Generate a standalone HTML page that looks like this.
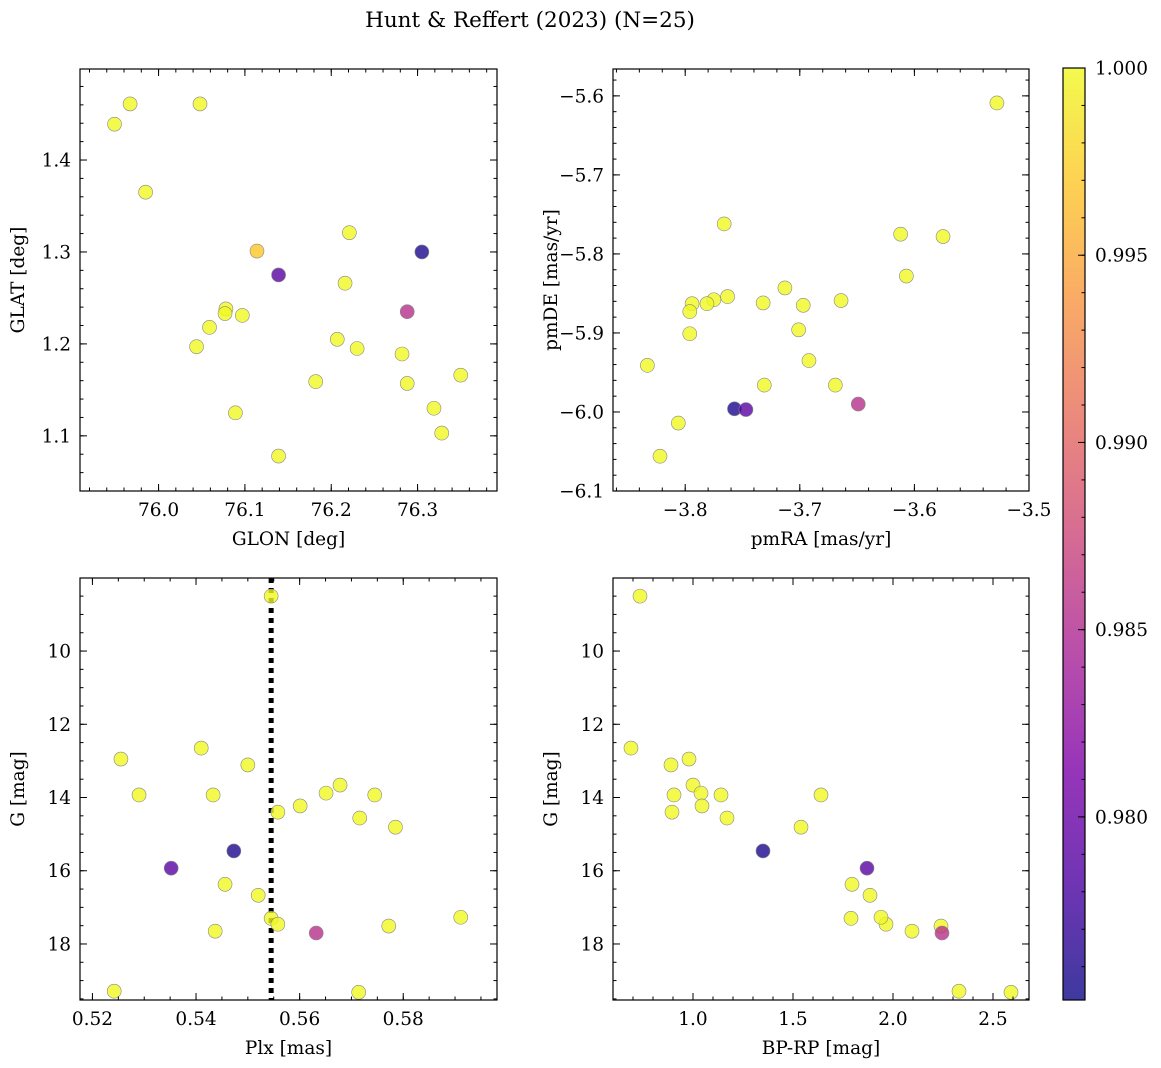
<!DOCTYPE html>
<html><head><meta charset="utf-8"><style>
body{margin:0;background:#fff;}
svg{display:block;font-family:"DejaVu Serif","Liberation Serif",serif;}
</style></head><body>
<svg id="c" width="1161" height="1068" xmlns="http://www.w3.org/2000/svg">
<defs>
<linearGradient id="plasma" x1="0" y1="1" x2="0" y2="0">
<stop offset="0" stop-color="#0d0887"/><stop offset="0.125" stop-color="#4c02a1"/><stop offset="0.25" stop-color="#7e03a8"/><stop offset="0.375" stop-color="#a92395"/><stop offset="0.5" stop-color="#cc4778"/><stop offset="0.625" stop-color="#e66c5c"/><stop offset="0.75" stop-color="#f89540"/><stop offset="0.875" stop-color="#fdc527"/><stop offset="1" stop-color="#f0f921"/>
</linearGradient>
</defs>
<text x="530" y="27" font-size="21.5" text-anchor="middle">Hunt &amp; Reffert (2023) (N=25)</text>
</svg>
<script>
// data
const glon=[75.949,75.967,76.048,75.985,76.114,76.139,76.305,76.221,76.216,76.288,76.078,76.077,76.097,76.059,76.044,76.207,76.230,76.282,76.288,76.350,76.182,76.089,76.319,76.328,76.139];
const glat=[1.439,1.461,1.461,1.365,1.301,1.275,1.300,1.321,1.266,1.235,1.238,1.233,1.231,1.218,1.197,1.205,1.195,1.189,1.157,1.166,1.159,1.125,1.130,1.103,1.078];
const glatProb=[1,1,1,1,0.997,0.979,0.9758,1,1,0.9855,1,1,1,1,1,1,1,1,1,1,1,1,1,1,1];
const pmra=[-3.528,-3.766,-3.612,-3.575,-3.607,-3.713,-3.763,-3.775,-3.794,-3.781,-3.732,-3.697,-3.664,-3.796,-3.701,-3.796,-3.692,-3.833,-3.731,-3.669,-3.649,-3.757,-3.747,-3.806,-3.822];
const pmde=[-5.609,-5.762,-5.775,-5.778,-5.828,-5.843,-5.854,-5.858,-5.863,-5.863,-5.862,-5.865,-5.859,-5.873,-5.896,-5.901,-5.935,-5.941,-5.966,-5.966,-5.990,-5.996,-5.997,-6.014,-6.056];
const pmProb=[1,1,1,1,1,1,1,1,1,1,1,1,1,1,1,1,1,1,1,1,0.9855,0.9758,0.979,1,1];
const plx=[0.5545,0.5255,0.5410,0.5500,0.5290,0.5433,0.5678,0.5651,0.5745,0.5601,0.5558,0.5716,0.5785,0.5473,0.5352,0.5456,0.5520,0.5545,0.5558,0.5437,0.5632,0.5772,0.5911,0.5242,0.5714];
const gPlx=[8.50,12.95,12.65,13.11,13.93,13.93,13.66,13.88,13.93,14.23,14.40,14.56,14.81,15.46,15.93,16.37,16.67,17.30,17.46,17.65,17.70,17.51,17.27,19.29,19.32];
const plxProb=[1,1,1,1,1,1,1,1,1,1,1,1,1,0.9758,0.979,1,1,1,1,1,0.9855,1,1,1,1];
const bprp=[0.735,0.69,0.98,0.89,1.0,0.905,1.04,1.14,1.64,1.045,0.895,1.17,1.54,1.35,1.87,1.795,1.885,1.79,1.965,1.94,2.095,2.24,2.245,2.33,2.59];
const gCmd=[8.50,12.65,12.95,13.11,13.66,13.93,13.88,13.93,13.93,14.23,14.40,14.56,14.81,15.46,15.93,16.37,16.67,17.30,17.46,17.27,17.65,17.51,17.70,19.29,19.32];
const cmdProb=[1,1,1,1,1,1,1,1,1,1,1,1,1,0.9758,0.979,1,1,1,1,1,1,1,0.9855,1,1];
const plxRef=[0.5545];
const cbTicks=[0.980,0.985,0.990,0.995,1.000];

const NS='http://www.w3.org/2000/svg';
const svg=document.getElementById('c');
const FS=18.5;
function mk(t,a,p){const e=document.createElementNS(NS,t);for(const k in a)e.setAttribute(k,a[k]);(p||svg).appendChild(e);return e;}
const stops=[[13,8,135],[76,2,161],[126,3,168],[169,35,149],[204,71,120],[230,108,92],[248,149,64],[253,197,39],[240,249,33]];
const cmin=0.97511,cmax=1.0;
function cmap(v){let t=(v-cmin)/(cmax-cmin);t=Math.max(0,Math.min(1,t))*8;const i=Math.min(7,Math.floor(t)),f=t-i;const a=stops[i],b=stops[i+1];return 'rgb('+a.map((c,k)=>Math.round(c+(b[k]-c)*f)).join(',')+')';}
function ticks(a,b,s){const r=[];const lo=Math.min(a,b),hi=Math.max(a,b);for(let v=Math.ceil(lo/s-1e-6)*s;v<=hi+1e-9;v+=s)r.push(+v.toFixed(6));return r;}
function fmt(v,d){const s=v.toFixed(d);return s.replace('-','\u2212');}
function panel(o){
  const g=mk('g',{});
  
  
  const X=v=>o.x0+(v-o.xd[0])/(o.xd[1]-o.xd[0])*(o.x1-o.x0);
  const Y=v=>o.y1-(v-o.yd[0])/(o.yd[1]-o.yd[0])*(o.y1-o.y0);
  if(o.vline){o.vline.forEach(v=>{const l=mk('line',{x1:X(v),x2:X(v),y1:o.y0,y2:o.y1,stroke:'#000','stroke-width':5,'stroke-dasharray':'5,5'},g);});}
  o.xs.forEach((xv,i)=>{const c=mk('circle',{cx:X(xv),cy:Y(o.ys[i]),r:7,fill:cmap(o.cs[i]),'fill-opacity':0.8,stroke:'#888','stroke-width':0.6},g);});
  const fr=mk('rect',{x:o.x0,y:o.y0,width:o.x1-o.x0,height:o.y1-o.y0,fill:'none',stroke:'#000','stroke-width':1.2},g);
  
  ticks(o.xd[0],o.xd[1],o.xmin).forEach(v=>{const x=X(v);mk('line',{x1:x,x2:x,y1:o.y1,y2:o.y1-3.5,stroke:'#000'},g);mk('line',{x1:x,x2:x,y1:o.y0,y2:o.y0+3.5,stroke:'#000'},g);});
  ticks(o.xd[0],o.xd[1],o.xmaj).forEach(v=>{const x=X(v);mk('line',{x1:x,x2:x,y1:o.y1,y2:o.y1-7,stroke:'#000'},g);mk('line',{x1:x,x2:x,y1:o.y0,y2:o.y0+7,stroke:'#000'},g);
    const t=mk('text',{x:x,y:o.y1+25,'font-size':FS,'text-anchor':'middle'},g);t.textContent=fmt(v,o.xdec);});
  ticks(o.yd[0],o.yd[1],o.ymin).forEach(v=>{const y=Y(v);mk('line',{x1:o.x0,x2:o.x0+3.5,y1:y,y2:y,stroke:'#000'},g);mk('line',{x1:o.x1,x2:o.x1-3.5,y1:y,y2:y,stroke:'#000'},g);});
  ticks(o.yd[0],o.yd[1],o.ymaj).forEach(v=>{const y=Y(v);mk('line',{x1:o.x0,x2:o.x0+7,y1:y,y2:y,stroke:'#000'},g);mk('line',{x1:o.x1,x2:o.x1-7,y1:y,y2:y,stroke:'#000'},g);
    const t=mk('text',{x:o.x0-9,y:y+6.5,'font-size':FS,'text-anchor':'end'},g);t.textContent=fmt(v,o.ydec);});
  const xl=mk('text',{x:(o.x0+o.x1)/2,y:o.y1+54,'font-size':FS,'text-anchor':'middle'},g);xl.textContent=o.xl;
  const yx=o.x0-56,yc=(o.y0+o.y1)/2;
  const yl=mk('text',{x:yx,y:yc,'font-size':FS,'text-anchor':'middle',transform:'rotate(-90 '+yx+' '+yc+')'},g);yl.textContent=o.yl;
}
panel({name:'glon-glat-panel',x0:80,x1:497,y0:69,y1:491,xd:[75.909,76.392],yd:[1.040,1.499],xs:glon,ys:glat,cs:glatProb,xmaj:0.1,xmin:0.02,ymaj:0.1,ymin:0.02,xdec:1,ydec:1,xl:'GLON [deg]',yl:'GLAT [deg]'});
panel({name:'proper-motion-panel',x0:613,x1:1029,y0:69,y1:491,xd:[-3.863,-3.5],yd:[-6.1,-5.566],xs:pmra,ys:pmde,cs:pmProb,xmaj:0.1,xmin:0.02,ymaj:0.1,ymin:0.02,xdec:1,ydec:1,xl:'pmRA [mas/yr]',yl:'pmDE [mas/yr]'});
panel({name:'parallax-magnitude-panel',x0:80,x1:497,y0:578,y1:1000,xd:[0.5176,0.5981],yd:[19.53,8.005],xs:plx,ys:gPlx,cs:plxProb,xmaj:0.02,xmin:0.005,ymaj:2,ymin:0.5,xdec:2,ydec:0,xl:'Plx [mas]',yl:'G [mag]',vline:plxRef});
panel({name:'color-magnitude-panel',x0:613,x1:1029,y0:578,y1:1000,xd:[0.6,2.68],yd:[19.53,8.005],xs:bprp,ys:gCmd,cs:cmdProb,xmaj:0.5,xmin:0.1,ymaj:2,ymin:0.5,xdec:1,ydec:0,xl:'BP-RP [mag]',yl:'G [mag]'});
// colorbar
const cb=mk('g',{});


const cy0=68,cy1=1000,cx0=1063,cx1=1085;
const CY=v=>cy1-(v-cmin)/(cmax-cmin)*(cy1-cy0);
mk('rect',{x:cx0,y:cy0,width:cx1-cx0,height:cy1-cy0,fill:'url(#plasma)','fill-opacity':0.8},cb);
mk('rect',{x:cx0,y:cy0,width:cx1-cx0,height:cy1-cy0,fill:'none',stroke:'#000','stroke-width':1.2},cb);
ticks(0.9755,1.0,0.001).forEach(v=>{const y=CY(v);mk('line',{x1:cx1,x2:cx1-3.5,y1:y,y2:y,stroke:'#000'},cb);});
cbTicks.forEach(v=>{const y=CY(v);mk('line',{x1:cx1,x2:cx1-7,y1:y,y2:y,stroke:'#000'},cb);
  const t=mk('text',{x:cx1+10,y:y+6.5,'font-size':FS},cb);t.textContent=v.toFixed(3);});
</script>
</body></html>
